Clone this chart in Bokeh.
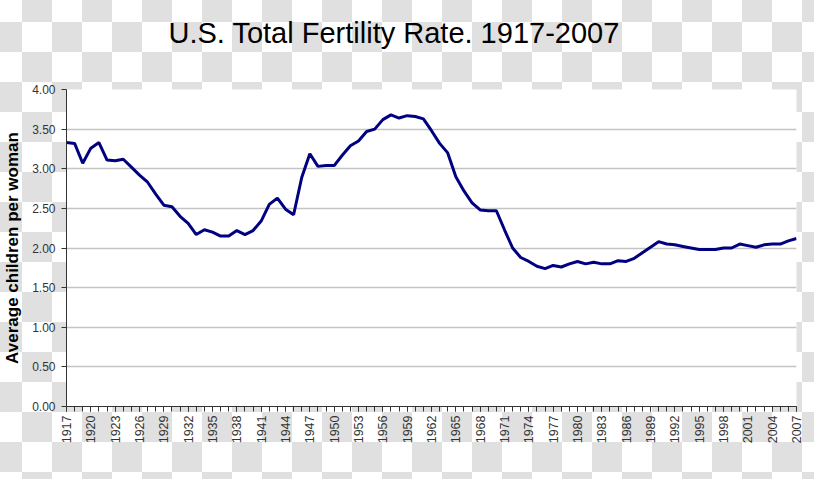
import math
from bokeh.plotting import figure
from bokeh.models import Range1d, FixedTicker, ColumnDataSource, Label
from bokeh.embed import file_html
from bokeh.resources import INLINE

years = list(range(1917, 2008))
fertility = [
    3.33, 3.32, 3.07, 3.26, 3.33, 3.11, 3.10, 3.12, 3.02, 2.92,   # 1917-1926
    2.83, 2.68, 2.54, 2.52, 2.40, 2.31, 2.17, 2.23, 2.20, 2.15,   # 1927-1936
    2.15, 2.22, 2.17, 2.22, 2.34, 2.55, 2.63, 2.49, 2.42, 2.89,   # 1937-1946
    3.19, 3.03, 3.04, 3.04, 3.17, 3.29, 3.35, 3.47, 3.50, 3.62,   # 1947-1956
    3.68, 3.64, 3.67, 3.66, 3.63, 3.48, 3.32, 3.20, 2.90, 2.72,   # 1957-1966
    2.57, 2.48, 2.47, 2.47, 2.23, 2.00, 1.88, 1.83, 1.77, 1.74,   # 1967-1976
    1.78, 1.76, 1.80, 1.83, 1.80, 1.82, 1.80, 1.80, 1.84, 1.83,   # 1977-1986
    1.87, 1.94, 2.01, 2.08, 2.05, 2.04, 2.02, 2.00, 1.98, 1.98,   # 1987-1996
    1.98, 2.00, 2.00, 2.05, 2.03, 2.01, 2.04, 2.05, 2.05, 2.09,   # 1997-2006
    2.12,                                                         # 2007
]
x_tick_years = years[::3]
x_tick_labels = [str(y) for y in x_tick_years]
y_ticks = [0, 0.5, 1.0, 1.5, 2.0, 2.5, 3.0, 3.5, 4.0]
y_tick_labels = ["%.2f" % v for v in y_ticks]

title_text = "U.S. Total Fertility Rate. 1917-2007"
y_axis_title = "Average children per woman"

FONT = "Liberation Sans"

p = figure(width=814, height=479, output_backend="svg", toolbar_location=None,
           x_range=Range1d(1917, 2007), y_range=Range1d(0, 4),
           min_border_left=63, min_border_right=18, min_border_top=89, min_border_bottom=73)

p.border_fill_color = None
p.background_fill_color = "white"
p.outline_line_color = None
p.styles = {
    "background-image": "repeating-conic-gradient(#e0e0e0 0% 25%, #ffffff 0% 50%)",
    "background-size": "60px 60px",
    "background-position": "-8px -8px",
}

# title (placed as a label in the panel above the frame)
title = Label(x=102, y=57, x_units="screen", y_units="screen", text=title_text,
              text_font=FONT, text_font_size="29px", text_color="black",
              text_align="left", text_baseline="alphabetic")
p.add_layout(title, "above")

# line
src = ColumnDataSource(dict(year=years, tfr=fertility))
p.line("year", "tfr", source=src, line_color="#000080", line_width=3)

# grid
p.xgrid.visible = False
p.ygrid.ticker = FixedTicker(ticks=y_ticks)
p.ygrid.grid_line_color = "#c4c4c4"
p.ygrid.grid_line_width = 1.5

# x axis
xa = p.xaxis[0]
xa.ticker = FixedTicker(ticks=x_tick_years, minor_ticks=years)
xa.major_label_overrides = {y: l for y, l in zip(x_tick_years, x_tick_labels)}
xa.major_label_orientation = math.pi / 2
xa.major_label_text_font = FONT
xa.major_label_text_font_size = "12.5px"
xa.major_label_text_color = "#333333"
xa.major_label_standoff = 4
xa.major_tick_in = 0
xa.major_tick_out = 5
xa.minor_tick_in = 0
xa.minor_tick_out = 5
xa.axis_line_color = "#333333"
xa.major_tick_line_color = "#333333"
xa.minor_tick_line_color = "#333333"

# y axis
ya = p.yaxis[0]
ya.ticker = FixedTicker(ticks=y_ticks)
ya.major_label_overrides = {v: l for v, l in zip(y_ticks, y_tick_labels)}
ya.major_label_text_font = FONT
ya.major_label_text_font_size = "12px"
ya.major_label_text_color = "#333333"
ya.major_label_standoff = 6
ya.major_tick_in = 0
ya.major_tick_out = 5
ya.minor_tick_line_color = None
ya.axis_line_color = "#333333"
ya.major_tick_line_color = "#333333"
ya.axis_label = y_axis_title
ya.axis_label_text_font = FONT
ya.axis_label_text_font_size = "17px"
ya.axis_label_text_font_style = "bold"
ya.axis_label_text_color = "black"
ya.axis_label_standoff = 7

open("out.html", "w").write(file_html(p, INLINE))
